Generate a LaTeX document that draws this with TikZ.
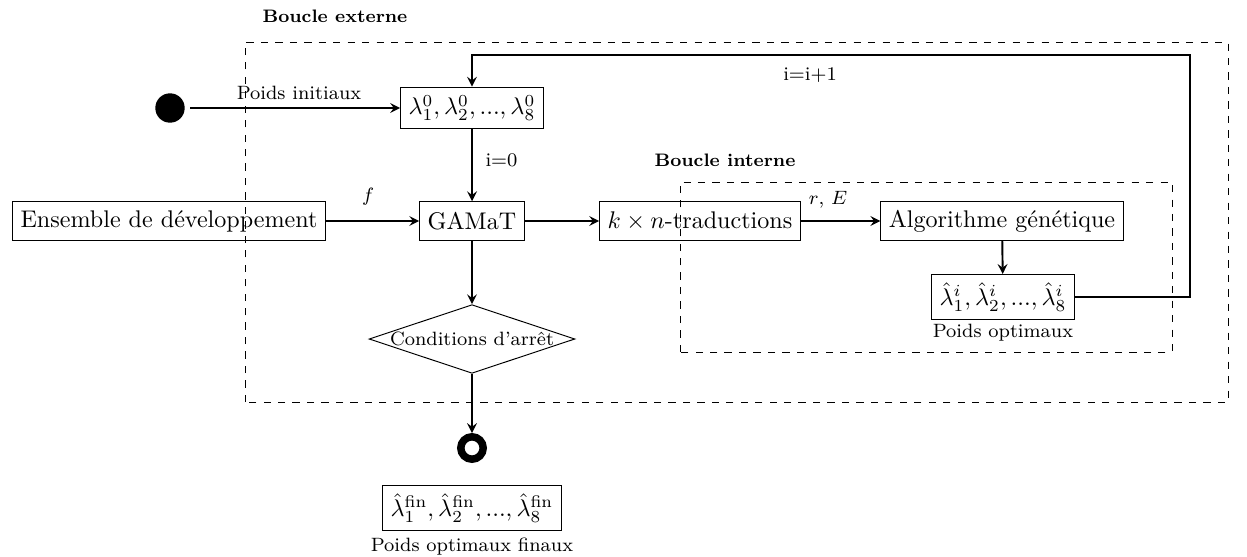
\documentclass[tikz,border=0pt]{standalone}
\usepackage{amsmath,amsfonts}
\usetikzlibrary{shapes.geometric,arrows}
\tikzset{boite/.style={draw, rectangle, minimum height=16pt},
	fleche/.style={thick, ->, >=stealth},
	etiquette/.style={font=\footnotesize},
	titre/.style={font=\fontsize{7.5pt}{9pt}\selectfont\bfseries},
	cadre/.style={dashed}}

\begin{document}
\begin{tikzpicture}[x=4.15pt, y=4.15pt]
\useasboundingbox (0,0) rectangle (124.7,55.6);
%Boucles
	\draw[cadre] (24.5,15.4) rectangle (122.8,51.4);
	\draw[cadre] (68,20.4) rectangle (117.2,37.4);
	\node[titre] (externe) at (33.5,54) {Boucle externe};
	\node[titre] (interne) at (72.5,39.6) {Boucle interne};
%Les noeuds
	\node[fill, circle, minimum size=12.2pt, inner sep=0] (debut) at (17,44.8) {};
	\node[boite] (init) at (47.2,44.8) {$\lambda_1^0, \lambda_2^0, ..., \lambda_8^0$};
	\node[boite] (ens) at (16.9,33.5) {Ensemble de développement};
	\node[boite] (gamat) at (47.2,33.5) {GAMaT};
	\node[boite] (trad) at (70,33.5) {$k \times n$-traductions};
	\node[boite] (algo) at (100.2,33.5) {Algorithme génétique};
	\node[boite] (optim) at (100.3,25.9) {$\hat{\lambda}_1^i, \hat{\lambda}_2^i, ..., \hat{\lambda}_8^i$};
	\node[etiquette] (poids) at (100.3,22.3) {Poids optimaux};
	\node[draw, diamond, aspect=3, inner sep=0pt, font=\footnotesize] (arret) at (47.2,21.7) {Conditions d'arrêt};
	\node[draw, circle, line width=3.1pt, minimum size=9.3pt, inner sep=0] (fin) at (47.2,10.8) {};
	\node[boite] (final) at (47.2,4.8) {$\hat{\lambda}_1^{\mathrm{fin}}, \hat{\lambda}_2^{\mathrm{fin}}, ..., \hat{\lambda}_8^{\mathrm{fin}}$};
	\node[etiquette] (poidsfin) at (47.2,0.9) {Poids optimaux finaux};
%Etiquettes
	\node[etiquette] (pinit) at (29.9,46.3) {Poids initiaux};
	\node[etiquette, anchor=west] (izero) at (47.7,39.6) {i=0};
	\node[etiquette] (f) at (36.8,35.9) {$f$};
	\node[etiquette] (re) at (82.8,35.6) {$r$, $E$};
	\node[etiquette] (iplus) at (81,48.1) {i=i+1};
%Fleches
	\coordinate (coin) at (119,50.1);
	\draw[fleche, shorten <=2pt] (debut) -- (init);
	\draw[fleche] (init) -- (gamat);
	\draw[fleche] (ens) -- (gamat);
	\draw[fleche] (gamat) -- (trad);
	\draw[fleche] (trad) -- (algo);
	\draw[fleche] (algo) -- (optim);
	\draw[fleche] (optim.east) -| (coin) -| (init.north);
	\draw[fleche] (gamat) -- (arret);
	\draw[fleche] (arret) -- (fin);
\end{tikzpicture}
\end{document}
